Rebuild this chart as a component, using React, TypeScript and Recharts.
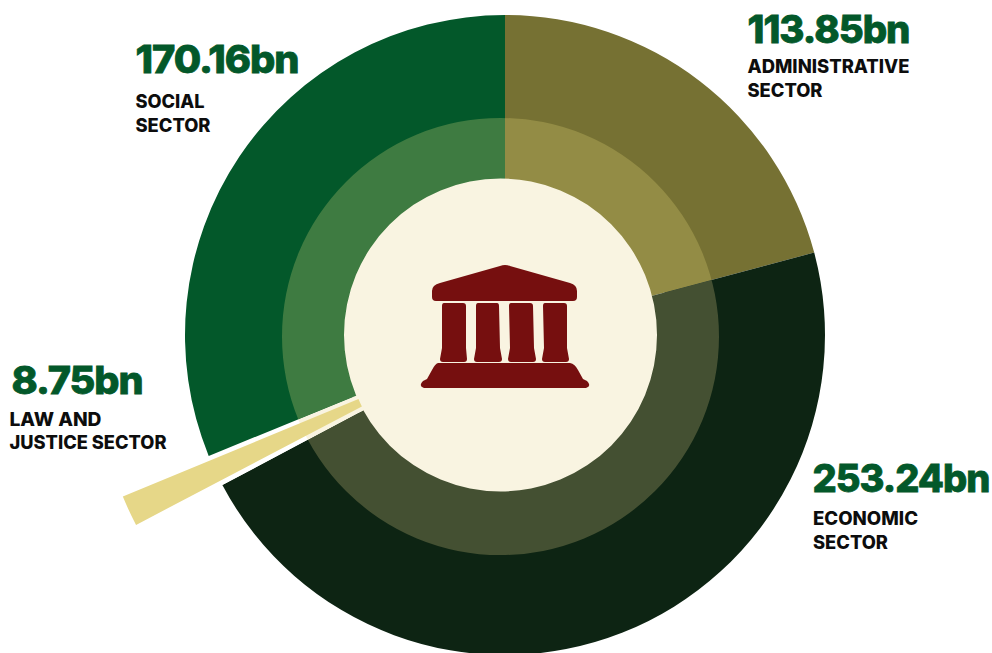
import React from 'react';
import { PieChart, Pie, Cell, Sector } from 'recharts';

const SECTORS = ['Administrative', 'Economic', 'Law and Justice', 'Social'];
const VALUES = [113.85, 253.24, 8.75, 170.16];
const OUTER_COLORS = ['#767133', '#0d2413', '#ffffff', '#03582a'];
const INNER_COLORS = ['#938c45', '#445032', '#f9f4e1', '#3e7b41'];

const data = SECTORS.map((name, i) => ({ name, value: VALUES[i] }));

const CX = 505;
const CY = 335;
const GREEN = '#03582a';
const INK = '#0d0d0d';
const FONT = 'Inter, "Noto Sans", sans-serif';
const RAD = Math.PI / 180;

// the lighter ring is not concentric with the pie, so it is the same slices clipped to a shifted ring
const RING_CLIP =
  'M282 336.5 A218.5 218.5 0 1 0 719 336.5 A218.5 218.5 0 1 0 282 336.5 Z ' +
  'M344 335 A156.5 156.5 0 1 0 657 335 A156.5 156.5 0 1 0 344 335 Z';

const InnerSlice = (props: any) => (
  <g clipPath="url(#inner-ring)">
    <Sector
      cx={props.cx}
      cy={props.cy}
      innerRadius={props.innerRadius}
      outerRadius={props.outerRadius}
      startAngle={props.startAngle}
      endAngle={props.endAngle}
      fill={props.fill}
      stroke="none"
    />
  </g>
);

// gold slice tapers to a point behind the centre, so its apex is pushed out along the slice
const LawSlice = (props: any) => {
  if (props.name !== 'Law and Justice' && props.payload?.name !== 'Law and Justice') return null;
  const mid = (props.startAngle + props.endAngle) / 2;
  const shift = 71;
  return (
    <Sector
      cx={props.cx + shift * Math.cos(mid * RAD)}
      cy={props.cy - shift * Math.sin(mid * RAD)}
      innerRadius={props.innerRadius - shift}
      outerRadius={props.outerRadius - shift}
      startAngle={mid + 2.6}
      endAngle={mid - 2.6}
      fill="#e6d788"
      stroke="none"
    />
  );
};

const Amount = ({ x, y, w, children }: any) => (
  <text
    x={x}
    y={y}
    fontFamily={FONT}
    fontWeight={800}
    fontSize={38}
    letterSpacing={-1}
    fill={GREEN}
    stroke={GREEN}
    strokeWidth={0.8}
    textLength={w}
    lengthAdjust="spacingAndGlyphs"
  >
    {children}
  </text>
);

const Caption = ({ x, y, w, children }: any) => (
  <text x={x} y={y} fontFamily={FONT} fontWeight={800} fontSize={18.5} fill={INK} textLength={w} lengthAdjust="spacingAndGlyphs">
    {children}
  </text>
);

const Temple = () => (
  <g fill="#760f0f">
    <path d="M500 266 Q505 264 510 266 L570 283 Q577 285 577 291 L577 297 Q577 301 573 301 L436 301 Q432 301 432 297 L432 291 Q432 285 440 283 Z" />
    <path d="M444 303 L463 303 Q466 303 466 306 L466 348 L467 359 Q467 362 464 362 L443 362 Q440 362 440 359 L442 348 L442 306 Q442 303 444 303 Z" />
    <path d="M478 303 L497 303 Q499 303 499 306 L500 348 L502 359 Q502 362 499 362 L477 362 Q474 362 474 359 L476 348 L476 306 Q476 303 478 303 Z" />
    <path d="M511 303 L530 303 Q533 303 533 306 L534 348 L536 359 Q536 362 533 362 L511 362 Q508 362 508 359 L510 348 L509 306 Q509 303 511 303 Z" />
    <path d="M545 303 L564 303 Q567 303 567 306 L567 348 L569 359 Q569 362 566 362 L545 362 Q542 362 542 359 L544 348 L543 306 Q543 303 545 303 Z" />
    <path d="M438 363 L570 363 Q575 364 578 370 L583 379 L587 381 Q592 386 586 388 L424 388 Q418 386 423 381 L427 379 L432 370 Q435 364 438 363 Z" />
  </g>
);

export default function App() {
  return (
    <div style={{ position: 'absolute', left: 0, top: 0, width: 992, height: 653, overflow: 'hidden', background: '#fff' }}>
      <PieChart width={992} height={653} margin={{ top: 0, right: 0, bottom: 0, left: 0 }}>
        <defs>
          <clipPath id="inner-ring">
            <path d={RING_CLIP} clipRule="evenodd" />
          </clipPath>
        </defs>
        <circle cx={500.5} cy={335} r={158} fill="#f9f4e1" />
        <Temple />
        <Pie
          data={data}
          dataKey="value"
          cx={CX}
          cy={CY}
          startAngle={90}
          endAngle={-270}
          innerRadius={165}
          outerRadius={320}
          stroke="none"
          isAnimationActive={false}
        >
          {OUTER_COLORS.map((c, i) => (
            <Cell key={i} fill={c} />
          ))}
        </Pie>
        <Pie
          data={data}
          dataKey="value"
          cx={CX}
          cy={CY}
          startAngle={90}
          endAngle={-270}
          innerRadius={100}
          outerRadius={320}
          stroke="none"
          shape={InnerSlice}
          isAnimationActive={false}
        >
          {INNER_COLORS.map((c, i) => (
            <Cell key={i} fill={c} />
          ))}
        </Pie>
        <Pie
          data={data}
          dataKey="value"
          cx={CX}
          cy={CY}
          startAngle={90}
          endAngle={-270}
          innerRadius={160}
          outerRadius={415}
          stroke="none"
          shape={LawSlice}
          isAnimationActive={false}
        />
        <Amount x={135.5} y={73} w={163}>170.16bn</Amount>
        <Caption x={135.5} y={108} w={69}>SOCIAL</Caption>
        <Caption x={135.5} y={132} w={75}>SECTOR</Caption>
        <Amount x={747.5} y={43} w={162}>113.85bn</Amount>
        <Caption x={747.5} y={72.5} w={162}>ADMINISTRATIVE</Caption>
        <Caption x={747.5} y={96.5} w={75}>SECTOR</Caption>
        <Amount x={812.5} y={492} w={177}>253.24bn</Amount>
        <Caption x={813} y={525} w={105}>ECONOMIC</Caption>
        <Caption x={813} y={549} w={75}>SECTOR</Caption>
        <Amount x={11.5} y={394} w={131}>8.75bn</Amount>
        <Caption x={9.5} y={425.5} w={92}>LAW AND</Caption>
        <Caption x={9.5} y={448.5} w={157}>JUSTICE SECTOR</Caption>
      </PieChart>
    </div>
  );
}
